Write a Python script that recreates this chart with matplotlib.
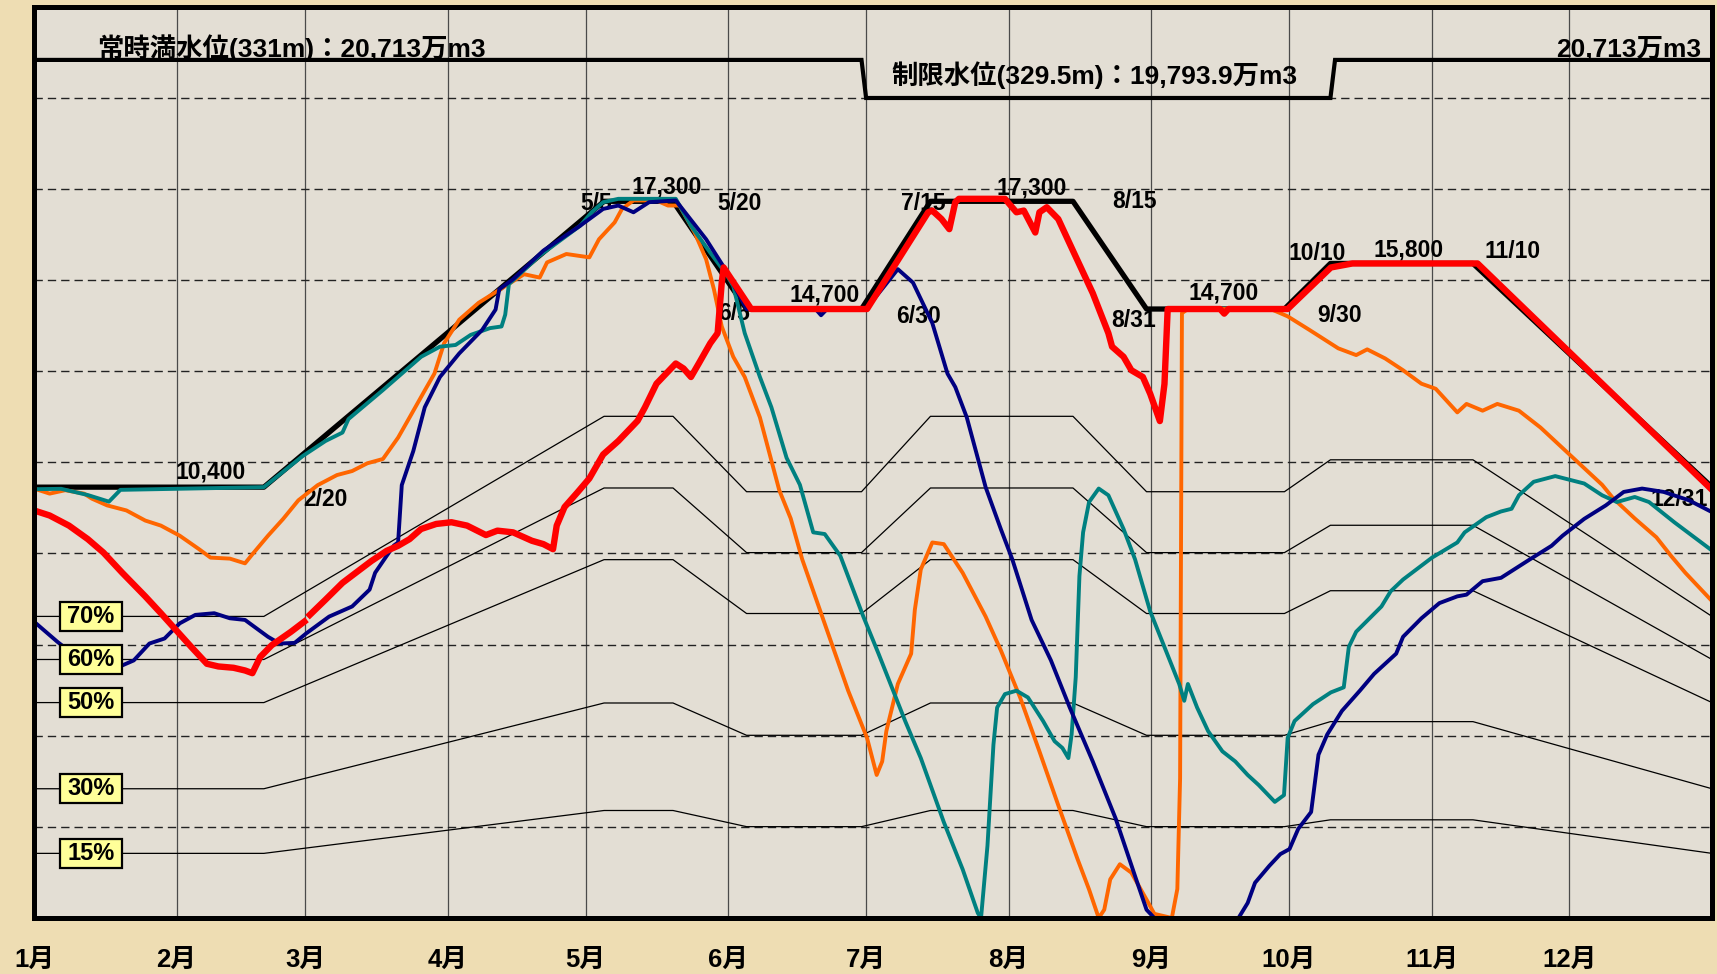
import numpy as np
import matplotlib
matplotlib.use("Agg")
import matplotlib.pyplot as plt
import matplotlib.font_manager as fm
from matplotlib.patches import Rectangle
import matplotlib.transforms as mtransforms

names = {f.name for f in fm.fontManager.ttflist}
LATIN = 'Liberation Sans Narrow' if 'Liberation Sans Narrow' in names else 'Liberation Sans'
FAM = [LATIN, 'Noto Sans CJK JP', 'DejaVu Sans']
plt.rcParams['font.family'] = FAM

# ---------------- data ----------------
MONTH_DAYS = [0, 31, 59, 90, 120, 151, 181, 212, 243, 273, 304, 334]
MONTH_LABELS = ['1月', '2月', '3月', '4月', '5月', '6月', '7月', '8月', '9月', '10月', '11月', '12月']

# operating rule curve (万m3)
RULE_DAY = [0, 50, 124, 139, 155, 180, 195, 226, 242, 272, 282, 313, 365]
RULE_VAL = [10400, 10400, 17300, 17300, 14700, 14700, 17300, 17300, 14700, 14700, 15800, 15800, 10400]

# full / restricted water level
LEVEL_DAY = [0, 180, 181, 282, 283, 365]
LEVEL_VAL = [20713, 20713, 19793.9, 19793.9, 20713, 20713]

PCTS = [70, 60, 50, 30, 15]

TEAL_DAY = [0, 5.9, 11.7, 16.3, 18.8, 50, 58.4, 63.4, 67.1, 68.4, 75.8, 84.2, 88.3, 91.7, 95, 99.2, 101.7,
            102.5, 103.3, 110, 118.8, 121.3, 123.8, 127.1, 139.6, 142.9, 147.1, 150.4, 152.1, 154.6,
            157.9, 160.4, 163.7, 166.6, 169.5, 172, 175.4, 180.4, 183.7, 189.5, 192.9, 197.9, 202,
            205.3, 206, 207.4, 208.7, 209.5, 211.2, 213.7, 216.2, 219.5, 222, 223.7, 225, 225.7, 226.6,
            227.4, 228.2, 229.5, 231.6, 233.7, 237, 239.5, 242.8, 245.9, 249.1, 250.2, 251, 253, 255.4,
            258.5, 261.3, 264, 266.4, 269.9, 271.9, 272.7, 274.2, 278.2, 282.1, 284.9, 286, 287.6,
            293.1, 295.1, 297.8, 304.1, 309.6, 311.2, 315.9, 319.1, 321.4, 323, 326.2, 330.9, 337.2,
            341.1, 344.3, 348.2, 351.3, 356.8, 365]
TEAL_VAL = [10350, 10360, 10210, 10050, 10335, 10400, 11148, 11514, 11718, 12043, 12734, 13547, 13791,
            13832, 14076, 14239, 14279, 14564, 15300, 15990, 16710, 17035, 17279, 17360, 17360, 16710,
            16060, 15570, 15255, 14117, 13060, 12328, 11108, 10457, 9309, 9268, 8740, 7276, 6381,
            4754, 3860, 2315, 1176, 119, 0, 1745, 4185, 5080, 5405, 5487, 5324, 4754, 4267, 4104, 3860,
            4429, 5812, 8252, 9309, 10041, 10366, 10204, 9390, 8658, 7400, 6540, 5649, 5243, 5649,
            5080, 4510, 4023, 3779, 3453, 3209, 2803, 2966, 4348, 4755, 5161, 5446, 5568, 6544, 6910,
            7520, 7886, 8170, 8699, 9065, 9309, 9675, 9813, 9878, 10204, 10529, 10667, 10488, 10204,
            10041, 10163, 10041, 9553, 8870]

NAVY_DAY = [0, 5.1, 9.3, 12.6, 19.2, 21.7, 25.1, 28.4, 31.7, 35.1, 39.2, 42.6, 45.9, 50.9, 53.4, 56.7,
            59.2, 64.2, 69.2, 73, 74.2, 76.7, 78.3, 79.2, 80, 82.5, 85, 88.3, 92.5, 97.5, 100.4, 101.2,
            104.2, 110.8, 118.8, 123.8, 127.1, 130.4, 133.8, 139.6, 146.2, 150.4, 155, 170, 171.2,
            172.5, 181, 187.9, 191.2, 195.4, 198.7, 200.4, 202.9, 207, 210.3, 212.8, 217, 221.2, 225.3,
            230.3, 235.3, 239.5, 242, 243.7, 262, 264, 265.6, 268.7, 271.1, 273.1, 275, 277.8, 279.4,
            281.3, 284.5, 288.4, 291.5, 296.3, 297.8, 301.8, 305.7, 309.6, 311.6, 315.1, 319.1, 325.4,
            330.1, 332.5, 337.2, 341.9, 345.8, 349.8, 354.5, 360, 365]
NAVY_VAL = [7154, 6666, 6300, 6137, 6097, 6218, 6625, 6747, 7113, 7317, 7357, 7235, 7195, 6788, 6625,
            6641, 6869, 7276, 7520, 7927, 8333, 8740, 8993, 9065, 10450, 11270, 12328, 13059, 13628,
            14198, 14686, 15174, 15418, 16110, 16710, 17116, 17198, 17035, 17279, 17320, 16384, 15652,
            14700, 14700, 14550, 14700, 14700, 15662, 15337, 14361, 13141, 12816, 12084, 10400, 9390,
            8658, 7195, 6219, 5080, 3779, 2396, 1013, 200, 0, 0, 363, 851, 1258, 1542, 1664, 2152, 2559,
            3941, 4429, 4999, 5487, 5893, 6381, 6788, 7235, 7601, 7764, 7805, 8130, 8211, 8658, 8984,
            9228, 9634, 9960, 10285, 10366, 10285, 10082, 9797]

ORANGE_DAY = [0, 3.4, 6.8, 10.9, 12.6, 15.9, 20.1, 24.2, 27.6, 31.7, 35.9, 38.4, 42.6, 45.9, 47.5, 50.9,
              54.2, 57.5, 61.7, 65.9, 69.2, 72.5, 75.9, 79.2, 81.7, 85, 87.1, 89.2, 92.5, 96.7, 100.8,
              106.6, 110, 111.6, 115.8, 120.8, 122.9, 126.3, 127.9, 130.4, 135.4, 137.9, 140.4, 143.7,
              146.2, 147.9, 149.6, 152.1, 154.6, 157.9, 162.1, 164.6, 167.1, 171.2, 177.1, 181.2, 183.3,
              184.5, 185.4, 187.9, 190.8, 191.6, 192.9, 195.4, 197.9, 202, 207, 210.3, 214.5, 218.7,
              222.8, 227, 229.5, 231.6, 232.8, 234.1, 236.2, 238.7, 242, 243.7, 247.5, 248.7, 249.3,
              249.7, 251, 269, 272.7, 277.4, 279.7, 283.7, 287.6, 290, 293.9, 297.8, 301.8, 304.9,
              309.6, 311.6, 315.1, 318.3, 323, 327.7, 334, 341.1, 343.5, 348.2, 352.9, 356.1, 359.2, 365]
ORANGE_VAL = [10366, 10244, 10326, 10244, 10122, 9960, 9838, 9594, 9472, 9228, 8903, 8699, 8675, 8561,
              8780, 9228, 9634, 10082, 10448, 10692, 10789, 10976, 11080, 11596, 12084, 12734, 13141,
              13873, 14442, 14849, 15133, 15540, 15459, 15825, 16028, 15947, 16384, 16791, 17116,
              17320, 17320, 17198, 17198, 16547, 15900, 15174, 14279, 13547, 13059, 12084, 10330, 9644,
              8658, 7357, 5487, 4348, 3453, 3779, 4510, 5649, 6381, 7439, 8415, 9065, 9025, 8333, 7276,
              6463, 5324, 4023, 2722, 1420, 688, 0, 200, 932, 1298, 1094, 444, 100, 0, 700, 3372, 14600,
              14700, 14700, 14523, 14198, 14035, 13751, 13588, 13726, 13507, 13222, 12897, 12775, 12205,
              12409, 12246, 12409, 12246, 11839, 11189, 10457, 10131, 9644, 9190, 8740, 8333, 7650]

RED_DAY = [0, 3.4, 7.6, 11.7, 15.1, 19.2, 24.2, 27.6, 30.9, 34.2, 37.6, 40.1, 43.4, 45.9, 47.5, 49.2,
           51.7, 55.9, 58.8, 59.4, 60, 63.4, 67.1, 70, 73.4, 76.7, 79.2, 81.7, 84.2, 87.5, 90.8, 94.2,
           98.3, 100.8, 104.2, 108.3, 110.8, 112.9, 113.7, 115.4, 118.3, 120.8, 123.8, 127.1, 131.3,
           132.9, 135.4, 139.6, 141.3, 142.9, 144.6, 147.1, 148.7, 149.6, 150, 156, 181.2, 194.5,
           195.4, 197.4, 199.1, 200.4, 201.2, 211.2, 213.7, 215.3, 217.8, 218.7, 220.3, 222.8, 226.2,
           230.3, 233.7, 234.5, 237, 238.7, 241.2, 242.8, 244.9, 245.9, 246.6, 258, 258.9, 259.8,
           272.7, 282.1, 286.8, 314, 365]
RED_VAL = [9838, 9716, 9472, 9146, 8821, 8333, 7764, 7357, 6950, 6544, 6137, 6072, 6040, 5975, 5910,
           6300, 6584, 6909, 7154, np.nan, 7317, 7683, 8089, 8333, 8618, 8862, 8984, 9146, 9390, 9512,
           9553, 9472, 9244, 9350, 9309, 9106, 9025, 8903, 9472, 9919, 10285, 10610, 11189, 11514,
           12002, 12328, 12897, 13385, 13263, 13059, 13385, 13873, 14117, 15337, 15703, 14700, 14700,
           17035, 17076, 16872, 16628, 17279, 17360, 17360, 17035, 17076, 16547, 17035, 17157, 16872,
           16059, 15083, 14117, 13792, 13547, 13222, 13059, 12653, 11995, 12891, 14700, 14700, 14589,
           14700, 14700, 15703, 15800, 15800, 10335]

# annotations: (text, day, baseline value)
ANNOT = [
    ('10,400', 38.4, 10619), ('2/20', 63.5, 9936), ('5/5', 122.3, 17091),
    ('17,300', 137.7, 17494), ('5/20', 153.4, 17091), ('6/5', 152.3, 14436),
    ('14,700', 171.9, 14878), ('7/15', 193.5, 17091), ('17,300', 217.0, 17453),
    ('8/15', 239.3, 17132), ('6/30', 192.4, 14356), ('8/31', 239.3, 14274),
    ('14,700', 258.7, 14919), ('9/30', 283.9, 14395), ('10/10', 279.1, 15884),
    ('15,800', 299.0, 15964), ('11/10', 321.6, 15925), ('12/31', 357.8, 9936),
]
TITLE_FULL = '常時満水位(331m)：20,713万m3'
TITLE_LIMIT = '制限水位(329.5m)：19,793.9万m3'
TITLE_RIGHT = '20,713万m3'

# ---------------- figure ----------------
W, H = 1717, 974
TOP, BOT = 6.6, 918.0
fig = plt.figure(figsize=(W / 100, H / 100), dpi=100, facecolor='#EEDDB3')
ax = fig.add_axes([34 / W, 1 - BOT / H, (1712 - 34) / W, (BOT - TOP) / H])
ax.set_facecolor('#E3DED4')
ax.set_xlim(0, 365)
ax.set_ylim(0, 22000)
ax.set_xticks([])
ax.set_yticks([])
for s in ax.spines.values():
    s.set_linewidth(3.6)
    s.set_color('black')
    s.set_zorder(20)

# grid
for d in MONTH_DAYS[1:]:
    ax.axvline(d, color='#4a4a4a', lw=0.9, zorder=1)
for k in range(1, 10):
    ax.axhline(k * 2200, color='#222222', lw=1.0, ls=(0, (6, 3.6)), zorder=1)

rule_d = np.array(RULE_DAY, dtype=float)
rule_v = np.array(RULE_VAL, dtype=float)
for p in PCTS:
    ax.plot(rule_d, rule_v * p / 100.0, color='black', lw=0.9, zorder=2)

# annotations (behind curves)
for txt, d, v in ANNOT:
    ax.text(d, v, txt, ha='center', va='baseline', fontsize=16.5, fontweight='bold',
            color='black', zorder=3)

ax.plot(LEVEL_DAY, LEVEL_VAL, color='black', lw=3.0, zorder=4, solid_joinstyle='miter')
ax.text(13.8, 20792, TITLE_FULL, ha='left', va='baseline', fontsize=19, fontweight='bold', zorder=5)
ax.text(186.6, 20133, TITLE_LIMIT, ha='left', va='baseline', fontsize=19, fontweight='bold', zorder=5)
ax.text(362.6, 20792, TITLE_RIGHT, ha='right', va='baseline', fontsize=19, fontweight='bold', zorder=5)

ax.plot(RULE_DAY, RULE_VAL, color='black', lw=3.8, zorder=5)
ax.plot(ORANGE_DAY, ORANGE_VAL, color='#FF6600', lw=2.8, zorder=6)
ax.plot(TEAL_DAY, TEAL_VAL, color='#008080', lw=2.8, zorder=7)
ax.plot(NAVY_DAY, NAVY_VAL, color='#000080', lw=2.8, zorder=8)
ax.plot(RED_DAY, RED_VAL, color='#FF0000', lw=4.6, zorder=9)

# percentage label boxes
for p in PCTS:
    v = rule_v[0] * p / 100.0
    ax.add_patch(Rectangle((12.4 - 6.75, v - 350), 13.5, 700, facecolor='#FFFF99',
                           edgecolor='black', lw=1.6, zorder=12))
    ax.text(12.4, v, f'{p}%', ha='center', va='center', fontsize=17, fontweight='bold', zorder=13)

# month labels
trans = mtransforms.blended_transform_factory(ax.transData, ax.transAxes)
for d, lab in zip(MONTH_DAYS, MONTH_LABELS):
    ax.text(d, -0.0538, lab, transform=trans, ha='center', va='baseline', fontsize=18.5,
            fontweight='bold', clip_on=False)

fig.savefig('out.png', dpi=100, facecolor=fig.get_facecolor())
